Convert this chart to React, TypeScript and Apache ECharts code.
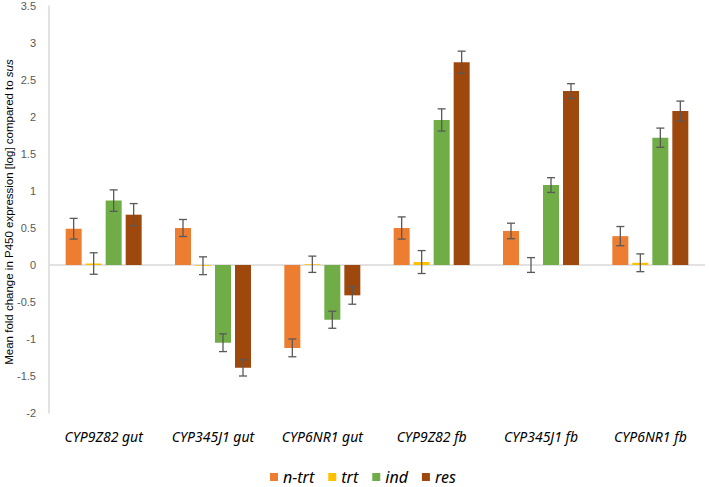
import React, { useEffect, useRef } from "react";
import * as echarts from "echarts";

const categories = ["CYP9Z82 gut", "CYP345J1 gut", "CYP6NR1 gut", "CYP9Z82 fb", "CYP345J1 fb", "CYP6NR1 fb"];
const seriesNames = ["n-trt", "trt", "ind", "res"];
const nTrt = [0.49, 0.5, -1.12, 0.5, 0.46, 0.39];
const trt = [0.02, -0.01, 0.01, 0.04, 0.0, 0.03];
const ind = [0.87, -1.05, -0.74, 1.96, 1.08, 1.72];
const res = [0.68, -1.39, -0.41, 2.74, 2.35, 2.08];
const nTrtErr = [0.14, 0.115, 0.12, 0.15, 0.105, 0.13];
const trtErr = [0.145, 0.12, 0.11, 0.155, 0.1, 0.12];
const indErr = [0.145, 0.12, 0.115, 0.15, 0.1, 0.13];
const resErr = [0.15, 0.11, 0.12, 0.15, 0.1, 0.135];
const colors = ["#ED7D31", "#FFC000", "#70AD47", "#9E480E"];
const yTicks = { min: -2, max: 3.5, interval: 0.5 };

const BAR_W = 16;
const BAR_GAP = 4;

export default function App() {
  const ref = useRef<HTMLDivElement>(null);
  useEffect(() => {
    if (!ref.current) return;
    const chart = echarts.init(ref.current, null, { renderer: "svg" });
    const values = [nTrt, trt, ind, res];
    const errs = [nTrtErr, trtErr, indErr, resErr];
    const barSeries: any[] = values.map((vals, i) => ({
      name: seriesNames[i],
      type: "bar",
      data: vals,
      barWidth: BAR_W,
      barGap: "25%",
      itemStyle: { color: colors[i] },
      z: 2,
      ...(i === 0
        ? {
            markLine: {
              silent: true,
              symbol: "none",
              label: { show: false },
              lineStyle: { color: "#d9d9d9", type: "solid", width: 1.5 },
              data: [{ yAxis: 0 }],
              z: 1,
            },
          }
        : {}),
    }));
    const errSeries: any[] = values.map((vals, i) => {
      const offset = (i - 1.5) * (BAR_W + BAR_GAP);
      return {
        name: seriesNames[i] + " err",
        type: "custom",
        data: vals.map((v, j) => [j, v, errs[i][j]]),
        encode: { x: 0, y: 1 },
        z: 5,
        renderItem: (params: any, api: any) => {
          const c = api.value(0);
          const v = api.value(1);
          const e = api.value(2);
          const x = api.coord([c, 0])[0] + offset;
          const yT = api.coord([c, v + e])[1];
          const yB = api.coord([c, v - e])[1];
          const style = { stroke: "#595959", lineWidth: 1.3 };
          const hw = 4;
          return {
            type: "group",
            children: [
              { type: "line", shape: { x1: x, y1: yT, x2: x, y2: yB }, style },
              { type: "line", shape: { x1: x - hw, y1: yT, x2: x + hw, y2: yT }, style },
              { type: "line", shape: { x1: x - hw, y1: yB, x2: x + hw, y2: yB }, style },
            ],
          };
        },
      };
    });
    chart.setOption({
      animation: false,
      grid: { left: 49, right: 4, top: 6, bottom: 74, containLabel: false, outerBoundsMode: "none" },
      graphic: [
        {
          type: "text",
          x: 9,
          y: 212,
          rotation: Math.PI / 2,
          style: {
            text: "{a|Mean fold change in P450 expression [log] compared to }{b|sus}",
            align: "center",
            verticalAlign: "middle",
            rich: {
              a: { fontSize: 11.5, fill: "#000", fontFamily: "Liberation Sans" },
              b: { fontSize: 11.5, fill: "#000", fontFamily: "Liberation Sans", fontStyle: "italic" },
            },
          },
        },
      ],
      legend: {
        data: seriesNames,
        top: 469,
        left: 270,
        padding: 0,
        itemWidth: 8,
        itemHeight: 8,
        itemGap: 14,
        icon: "rect",
        textStyle: { fontStyle: "italic", fontSize: 16, color: "#000", fontFamily: "Noto Sans" },
      },
      xAxis: {
        type: "category",
        data: categories,
        axisLine: { show: false, onZero: false },
        axisTick: { show: false },
        axisLabel: {
          interval: 0,
          fontStyle: "italic",
          fontSize: 14,
          color: "#000",
          margin: 16,
          fontFamily: "Noto Sans",
        },
      },
      yAxis: {
        type: "value",
        min: yTicks.min,
        max: yTicks.max,
        interval: yTicks.interval,
        axisLine: { show: true, lineStyle: { color: "#d9d9d9", width: 1.5 } },
        axisTick: { show: false },
        splitLine: { show: false },
        axisLabel: { color: "#595959", fontSize: 11, margin: 13, fontFamily: "Liberation Sans" },
      },
      series: [...barSeries, ...errSeries],
    });
    return () => chart.dispose();
  }, []);
  return (
    <div
      ref={ref}
      style={{ position: "absolute", left: 0, top: 0, width: 709, height: 487 }}
    />
  );
}
